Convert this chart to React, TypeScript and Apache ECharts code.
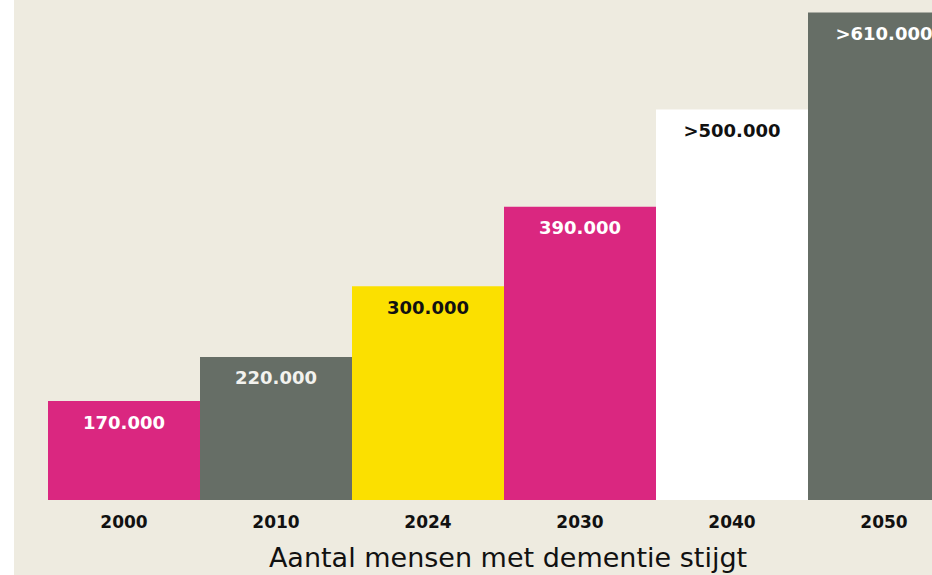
import React, { useEffect, useRef } from "react";
import * as echarts from "echarts";

const years = ["2000", "2010", "2024", "2030", "2040", "2050"];
const values = [170000, 220000, 300000, 390000, 500000, 610000];
const valueLabels = ["170.000", "220.000", "300.000", "390.000", ">500.000", ">610.000"];
const barColors = ["#DA2780", "#666E66", "#FBE000", "#DA2780", "#FFFFFF", "#666E66"];
const labelColors = ["#FFFFFF", "#F2F2EE", "#111111", "#FFFFFF", "#111111", "#FFFFFF"];
const title = "Aantal mensen met dementie stijgt";

export default function App() {
  const ref = useRef<HTMLDivElement>(null);
  useEffect(() => {
    if (!ref.current) return;
    const chart = echarts.init(ref.current, null, { renderer: "svg" });
    chart.setOption({
      animation: false,
      backgroundColor: "#EEEBE0",
      grid: { left: 34, right: 0, top: 8, bottom: 75, containLabel: false, outerBoundsMode: "none" },
      xAxis: {
        type: "category",
        data: years,
        axisLine: { show: false },
        axisTick: { show: false },
        axisLabel: {
          margin: 13,
          color: "#111111",
          fontFamily: "DejaVu Sans",
          fontWeight: "bold",
          fontSize: 17,
        },
      },
      yAxis: {
        type: "value",
        min: 58000,
        max: 615000,
        show: false,
        splitLine: { show: false },
      },
      series: [
        {
          type: "bar",
          barCategoryGap: 0,
          data: values.map((v, i) => ({
            value: v,
            itemStyle: { color: barColors[i] },
            label: { color: labelColors[i] },
          })),
          label: {
            show: true,
            position: "insideTop",
            distance: 12,
            fontFamily: "DejaVu Sans",
            fontWeight: "bold",
            fontSize: 18,
            formatter: (p: any) => valueLabels[p.dataIndex],
          },
        },
      ],
      graphic: [
        {
          type: "text",
          x: 494,
          y: 557,
          style: {
            text: title,
            textAlign: "center",
            textVerticalAlign: "middle",
            fontFamily: "DejaVu Sans",
            fontSize: 27,
            fill: "#111111",
          },
        },
      ],
    });
    return () => chart.dispose();
  }, []);
  return (
    <div
      style={{
        position: "fixed",
        left: 0,
        top: 0,
        width: 932,
        height: 575,
        background: "#FFFFFF",
        overflow: "hidden",
      }}
    >
      <div ref={ref} style={{ position: "absolute", left: 14, top: 0, width: 946, height: 575 }} />
    </div>
  );
}
